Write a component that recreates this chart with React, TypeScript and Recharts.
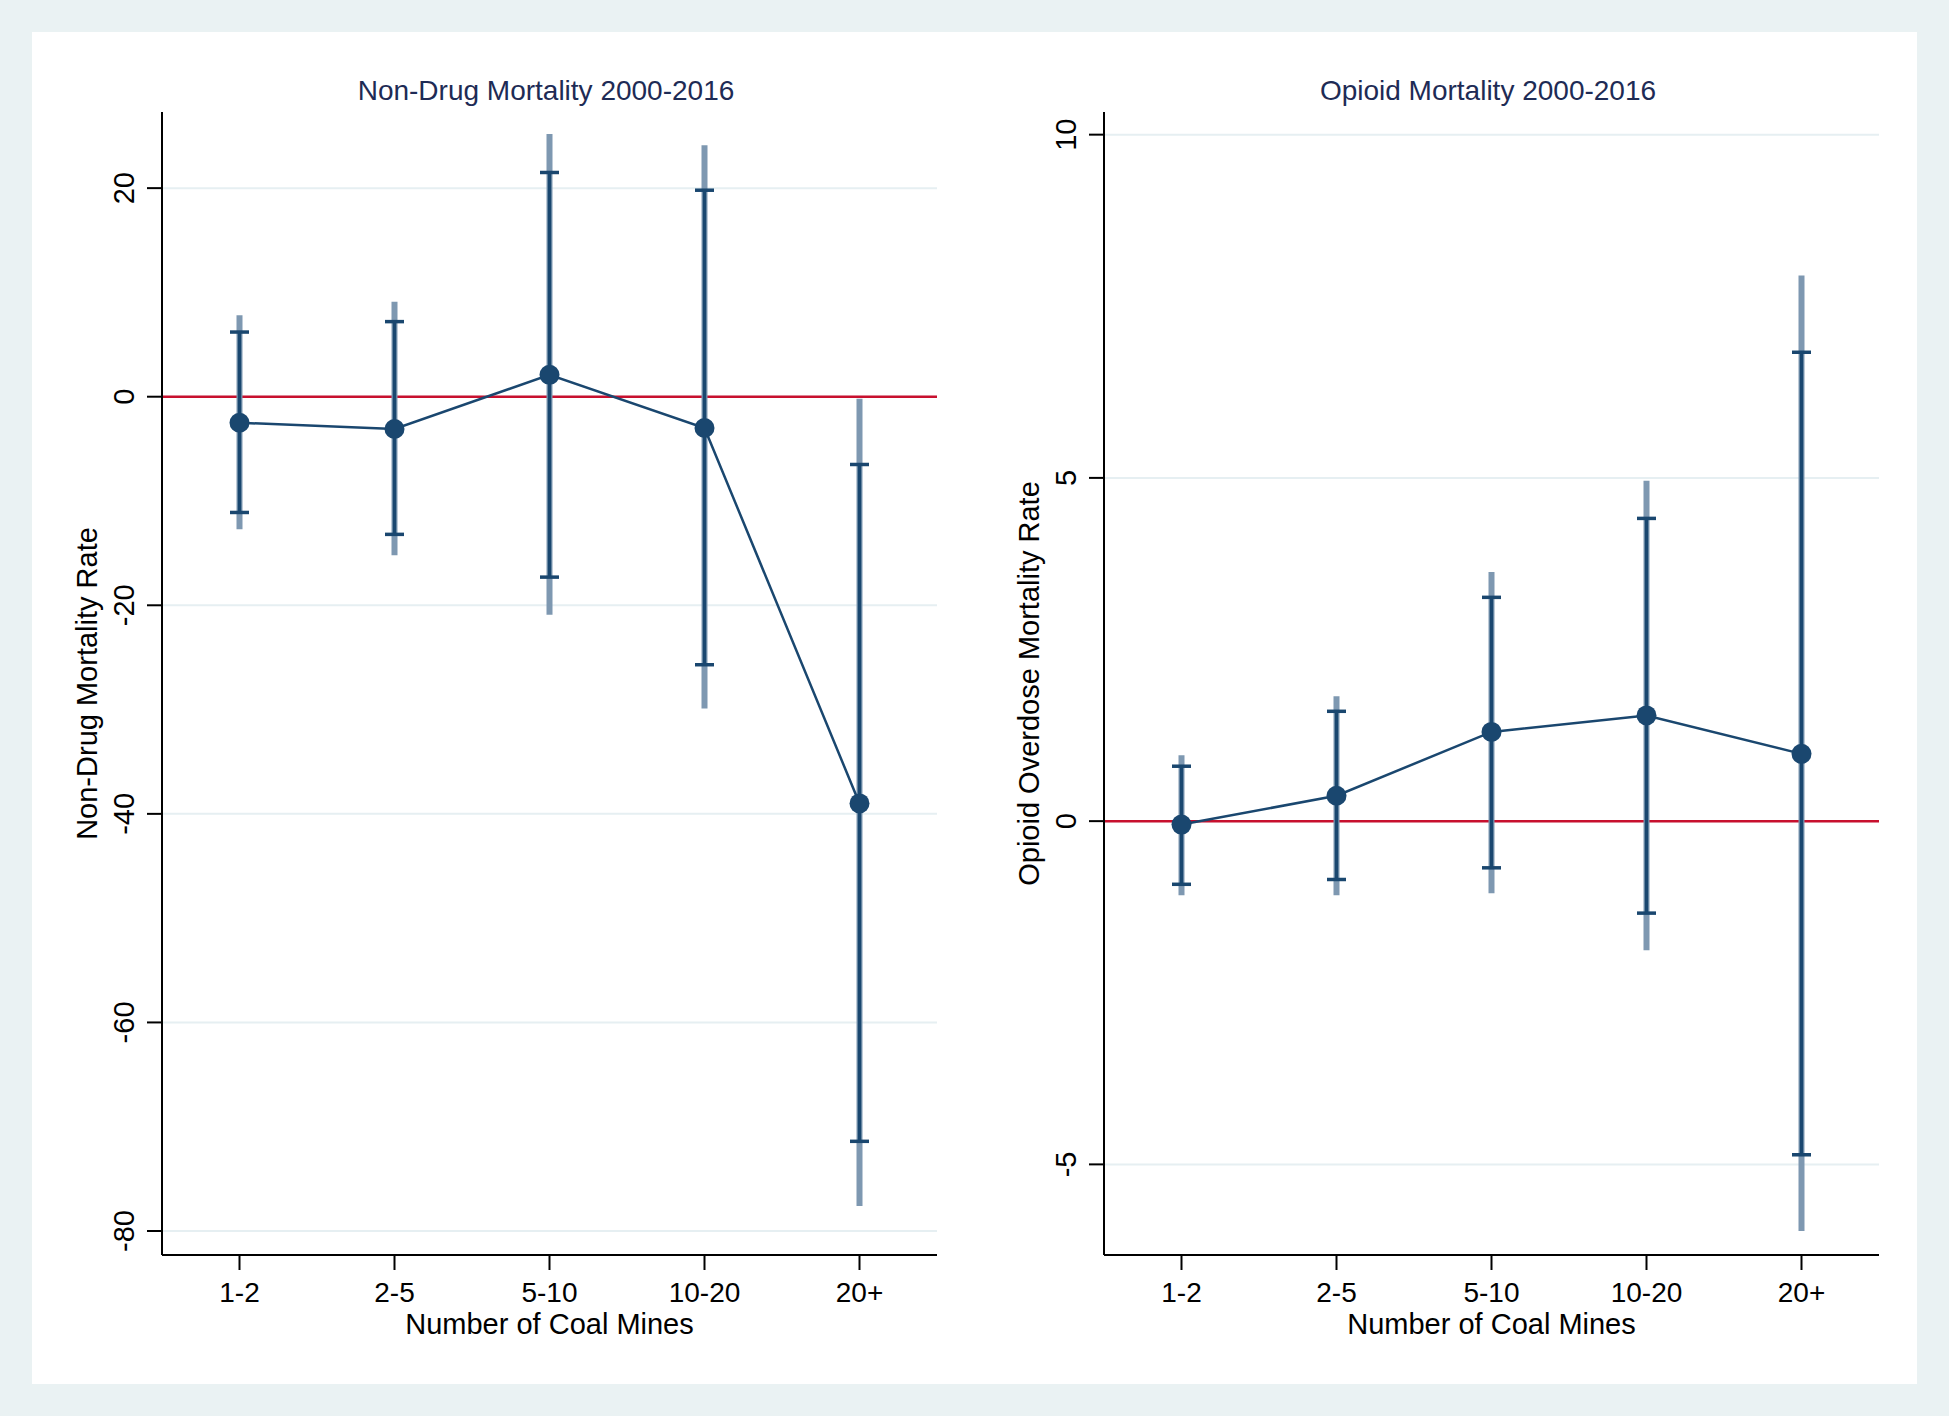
import React from 'react';
import { ComposedChart, Line, ErrorBar, XAxis, YAxis, CartesianGrid, ReferenceLine } from 'recharts';

// categories on the x axis
const categories = ['1-2', '2-5', '5-10', '10-20', '20+'];

// Non-drug mortality: point estimates, inner (95%) and outer (99%) intervals
const nonDrugEst = [-2.5, -3.1, 2.1, -3.0, -39.0];
const nonDrugLo95 = [-11.1, -13.2, -17.3, -25.7, -71.4];
const nonDrugHi95 = [6.2, 7.2, 21.5, 19.8, -6.5];
const nonDrugLo99 = [-12.7, -15.2, -20.9, -29.9, -77.6];
const nonDrugHi99 = [7.8, 9.1, 25.2, 24.1, -0.2];
const nonDrugTicks = [-80, -60, -40, -20, 0, 20];

// Opioid overdose mortality
const opioidEst = [-0.05, 0.37, 1.3, 1.54, 0.98];
const opioidLo95 = [-0.92, -0.85, -0.68, -1.34, -4.86];
const opioidHi95 = [0.8, 1.6, 3.26, 4.41, 6.83];
const opioidLo99 = [-1.08, -1.08, -1.05, -1.88, -5.97];
const opioidHi99 = [0.96, 1.82, 3.63, 4.96, 7.95];
const opioidTicks = [-5, 0, 5, 10];

const NAVY = '#1a476f';
const NAVY_LIGHT = '#7e98b1';
const RED = '#c8102e';
const GRID = '#e6eff2';
const TITLE = '#1e2b55';
const FONT = '"Liberation Sans", Arial, Helvetica, sans-serif';

function buildRows(est: number[], lo95: number[], hi95: number[], lo99: number[], hi99: number[]) {
  return categories.map((cat, i) => ({
    pos: i + 1,
    cat,
    est: est[i],
    ci95: [est[i] - lo95[i], hi95[i] - est[i]],
    ci99: [est[i] - lo99[i], hi99[i] - est[i]],
  }));
}

const nonDrugRows = buildRows(nonDrugEst, nonDrugLo95, nonDrugHi95, nonDrugLo99, nonDrugHi99);
const opioidRows = buildRows(opioidEst, opioidLo95, opioidHi95, opioidLo99, opioidHi99);

function RotatedTick(props: any) {
  const { x, y, payload } = props;
  return (
    <text x={x} y={y} transform={`rotate(-90, ${x}, ${y})`} textAnchor="middle"
      fontSize={29} fontFamily={FONT} fill="#000">
      {payload.value}
    </text>
  );
}

function Panel({ left, yAxisWidth, marginRight, domain, ticks, data, title, titleX, yLabel, yLabelOffset }: any) {
  return (
    <div style={{ position: 'absolute', left, top: 0, width: 960, height: 1416 }}>
      <div style={{
        position: 'absolute', left: titleX - 300, width: 600, top: 77, textAlign: 'center',
        fontFamily: FONT, fontSize: 28, lineHeight: '28px', color: TITLE,
      }}>{title}</div>
      <ComposedChart width={960} height={1416} data={data}
        margin={{ top: 112, right: marginRight, bottom: 61, left: 0 }}>
        <CartesianGrid vertical={false} horizontalValues={ticks} stroke={GRID} strokeWidth={2} />
        <ReferenceLine y={0} stroke={RED} strokeWidth={2.5} />
        <XAxis type="number" dataKey="pos" domain={[0.5, 5.5]} ticks={[1, 2, 3, 4, 5]}
          tickFormatter={(v: number) => categories[v - 1]} height={100}
          axisLine={{ stroke: '#000', strokeWidth: 2 }} tickLine={{ stroke: '#000', strokeWidth: 2 }}
          tickSize={15} tickMargin={12}
          tick={{ fontSize: 28, fontFamily: FONT, fill: '#000' }}
          label={{ value: 'Number of Coal Mines', position: 'insideBottom', offset: 21, fontSize: 29, fontFamily: FONT, fill: '#000' }} />
        <YAxis type="number" domain={domain} ticks={ticks} width={yAxisWidth} allowDataOverflow
          axisLine={{ stroke: '#000', strokeWidth: 2 }} tickLine={{ stroke: '#000', strokeWidth: 2 }}
          tickSize={15} tickMargin={13} tick={<RotatedTick />}
          label={{ value: yLabel, angle: -90, position: 'insideLeft', offset: yLabelOffset, fontSize: 29, fontFamily: FONT, fill: '#000', style: { textAnchor: 'middle' } }} />
        <Line type="linear" dataKey="est" stroke={NAVY} strokeWidth={2.5}
          dot={{ r: 10, fill: NAVY, stroke: NAVY, strokeWidth: 0 }} activeDot={false}
          isAnimationActive={false}>
          <ErrorBar dataKey="ci99" width={0} strokeWidth={6} stroke={NAVY_LIGHT} isAnimationActive={false} />
          <ErrorBar dataKey="ci95" width={9.5} strokeWidth={3.5} stroke={NAVY} isAnimationActive={false} />
        </Line>
      </ComposedChart>
    </div>
  );
}

export default function App() {
  return (
    <div style={{ position: 'absolute', left: 0, top: 0, width: 1949, height: 1416, background: '#eaf2f3', overflow: 'hidden' }}>
      <div style={{ position: 'absolute', left: 32, top: 32, width: 1885, height: 1352, background: '#fff' }} />
      <Panel left={0} yAxisWidth={162} marginRight={23} domain={[-82.3, 27.3]} ticks={nonDrugTicks}
        data={nonDrugRows} title="Non-Drug Mortality 2000-2016" titleX={546}
        yLabel="Non-Drug Mortality Rate" yLabelOffset={87} />
      <Panel left={960} yAxisWidth={144} marginRight={41} domain={[-6.32, 10.33]} ticks={opioidTicks}
        data={opioidRows} title="Opioid Mortality 2000-2016" titleX={528}
        yLabel="Opioid Overdose Mortality Rate" yLabelOffset={69} />
    </div>
  );
}
